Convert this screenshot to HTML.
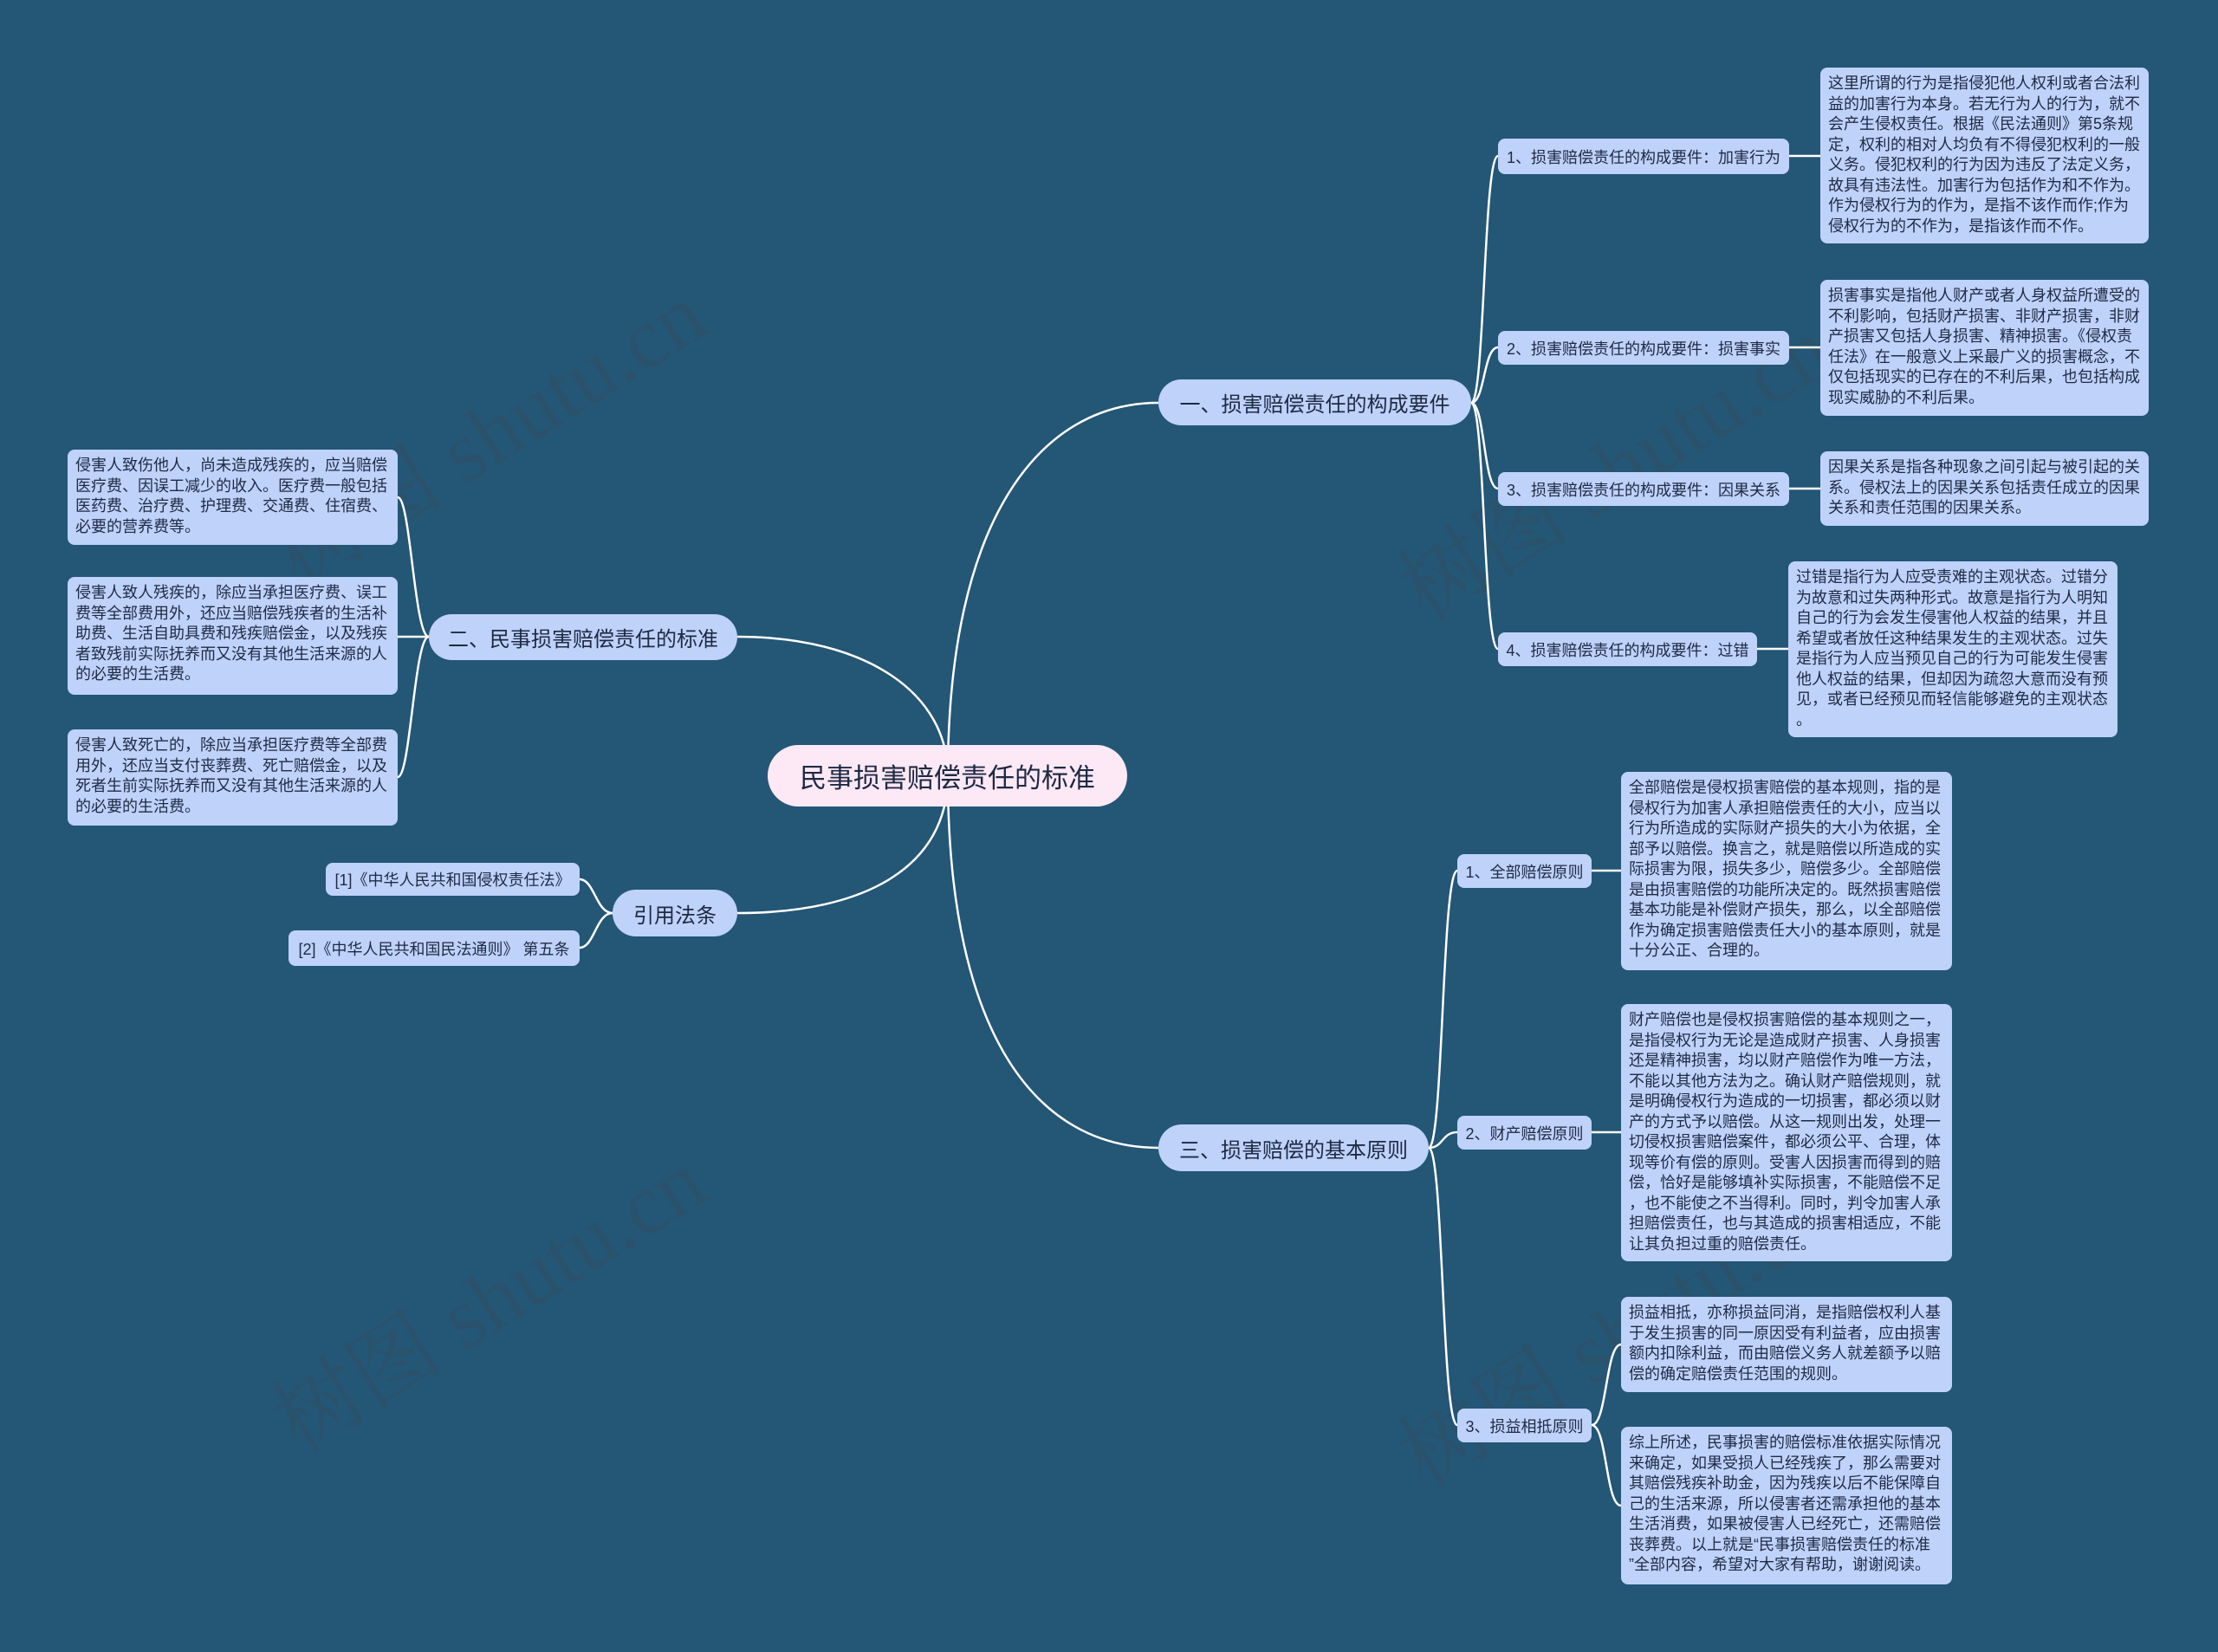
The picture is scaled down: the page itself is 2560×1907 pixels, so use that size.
<!DOCTYPE html>
<html><head><meta charset="utf-8"><style>
body{margin:0;width:2560px;height:1907px;background:#245676;overflow:hidden;position:relative;font-family:"Liberation Sans","Noto Sans CJK SC",sans-serif;}
.n{position:absolute;box-sizing:border-box;background:#bed2fa;color:#1e2a44;border-radius:8px;white-space:nowrap;}
.d{font-size:18px;line-height:23.5px;padding:7px 9px 5px;}
.s{font-size:18px;display:flex;align-items:center;justify-content:center;}
.b{font-size:24px;display:flex;align-items:center;justify-content:center;border-radius:27px;}
svg{position:absolute;left:0;top:0;}
.w{position:absolute;font-family:"Liberation Serif","Noto Serif CJK SC",serif;font-size:100px;color:rgba(60,70,80,0.25);white-space:nowrap;transform:rotate(-32deg);transform-origin:left bottom;}
</style></head><body>
<div class="w" style="left:360px;top:560px;">树图 shutu.cn</div>
<div class="w" style="left:360px;top:1560px;">树图 shutu.cn</div>
<div class="w" style="left:1660px;top:600px;">树图 shutu.cn</div>
<div class="w" style="left:1660px;top:1600px;">树图 shutu.cn</div>
<svg width="2560" height="1907" fill="none" stroke="#fff" stroke-width="2.5">
<path d="M1094,895 C1094,600 1200,465 1337,465"/>
<path d="M1094,895 C1094,1200 1200,1325 1337,1325"/>
<path d="M1094,895 C1094,800 1000,735 851,735"/>
<path d="M1094,895 C1094,1000 1000,1054 851,1054"/>
<path d="M1698,465 C1714,465 1712,180 1729,180"/>
<path d="M1698,465 C1714,465 1712,401 1729,401"/>
<path d="M1698,465 C1714,465 1712,564 1729,564"/>
<path d="M1698,465 C1714,465 1712,749 1729,749"/>
<path d="M2065,180 H2101 M2065,401 H2101 M2065,564 H2101 M2028,749 H2064"/>
<path d="M495,735 C478,735 474,574 459,574"/>
<path d="M495,735 H459"/>
<path d="M495,735 C478,735 474,897 459,897"/>
<path d="M707,1054 C688,1054 686,1015 669,1015"/>
<path d="M707,1054 C688,1054 686,1094 669,1094"/>
<path d="M1649,1325 C1666,1325 1664,1005 1682,1005"/>
<path d="M1649,1325 C1666,1325 1664,1307 1682,1307"/>
<path d="M1649,1325 C1666,1325 1664,1645 1682,1645"/>
<path d="M1837,1005 H1871 M1837,1307 H1871"/>
<path d="M1837,1645 C1855,1645 1853,1552 1871,1552"/>
<path d="M1837,1645 C1855,1645 1853,1738 1871,1738"/>
</svg>
<div class="n b" style="left:886px;top:860px;width:415px;height:71px;background:#fde8f6;font-size:31px;border-radius:36px;">民事损害赔偿责任的标准</div>
<div class="n b" style="left:1337px;top:438px;width:361px;height:53px;">一、损害赔偿责任的构成要件</div>
<div class="n b" style="left:495px;top:709px;width:356px;height:53px;">二、民事损害赔偿责任的标准</div>
<div class="n b" style="left:707px;top:1027px;width:144px;height:54px;">引用法条</div>
<div class="n b" style="left:1337px;top:1298px;width:312px;height:54px;">三、损害赔偿的基本原则</div>
<div class="n s" style="left:1729px;top:160px;width:336px;height:41px;">1、损害赔偿责任的构成要件：加害行为</div>
<div class="n s" style="left:1729px;top:382px;width:336px;height:39px;">2、损害赔偿责任的构成要件：损害事实</div>
<div class="n s" style="left:1729px;top:545px;width:336px;height:39px;">3、损害赔偿责任的构成要件：因果关系</div>
<div class="n s" style="left:1729px;top:730px;width:299px;height:39px;">4、损害赔偿责任的构成要件：过错</div>
<div class="n d" style="left:2101px;top:78px;width:379px;height:203px;">这里所谓的行为是指侵犯他人权利或者合法利<br>益的加害行为本身。若无行为人的行为，就不<br>会产生侵权责任。根据《民法通则》第5条规<br>定，权利的相对人均负有不得侵犯权利的一般<br>义务。侵犯权利的行为因为违反了法定义务，<br>故具有违法性。加害行为包括作为和不作为。<br>作为侵权行为的作为，是指不该作而作;作为<br>侵权行为的不作为，是指该作而不作。</div>
<div class="n d" style="left:2101px;top:323px;width:379px;height:157px;">损害事实是指他人财产或者人身权益所遭受的<br>不利影响，包括财产损害、非财产损害，非财<br>产损害又包括人身损害、精神损害。《侵权责<br>任法》在一般意义上采最广义的损害概念，不<br>仅包括现实的已存在的不利后果，也包括构成<br>现实威胁的不利后果。</div>
<div class="n d" style="left:2101px;top:521px;width:379px;height:86px;">因果关系是指各种现象之间引起与被引起的关<br>系。侵权法上的因果关系包括责任成立的因果<br>关系和责任范围的因果关系。</div>
<div class="n d" style="left:2064px;top:648px;width:380px;height:203px;">过错是指行为人应受责难的主观状态。过错分<br>为故意和过失两种形式。故意是指行为人明知<br>自己的行为会发生侵害他人权益的结果，并且<br>希望或者放任这种结果发生的主观状态。过失<br>是指行为人应当预见自己的行为可能发生侵害<br>他人权益的结果，但却因为疏忽大意而没有预<br>见，或者已经预见而轻信能够避免的主观状态<br>。</div>
<div class="n d" style="left:78px;top:519px;width:381px;height:110px;">侵害人致伤他人，尚未造成残疾的，应当赔偿<br>医疗费、因误工减少的收入。医疗费一般包括<br>医药费、治疗费、护理费、交通费、住宿费、<br>必要的营养费等。</div>
<div class="n d" style="left:78px;top:666px;width:381px;height:136px;">侵害人致人残疾的，除应当承担医疗费、误工<br>费等全部费用外，还应当赔偿残疾者的生活补<br>助费、生活自助具费和残疾赔偿金，以及残疾<br>者致残前实际抚养而又没有其他生活来源的人<br>的必要的生活费。</div>
<div class="n d" style="left:78px;top:842px;width:381px;height:111px;">侵害人致死亡的，除应当承担医疗费等全部费<br>用外，还应当支付丧葬费、死亡赔偿金，以及<br>死者生前实际抚养而又没有其他生活来源的人<br>的必要的生活费。</div>
<div class="n s" style="left:376px;top:996px;width:293px;height:38px;">[1]《中华人民共和国侵权责任法》</div>
<div class="n s" style="left:333px;top:1074px;width:336px;height:41px;">[2]《中华人民共和国民法通则》 第五条</div>
<div class="n s" style="left:1682px;top:986px;width:155px;height:39px;">1、全部赔偿原则</div>
<div class="n s" style="left:1682px;top:1288px;width:155px;height:39px;">2、财产赔偿原则</div>
<div class="n s" style="left:1682px;top:1626px;width:155px;height:39px;">3、损益相抵原则</div>
<div class="n d" style="left:1871px;top:891px;width:382px;height:229px;">全部赔偿是侵权损害赔偿的基本规则，指的是<br>侵权行为加害人承担赔偿责任的大小，应当以<br>行为所造成的实际财产损失的大小为依据，全<br>部予以赔偿。换言之，就是赔偿以所造成的实<br>际损害为限，损失多少，赔偿多少。全部赔偿<br>是由损害赔偿的功能所决定的。既然损害赔偿<br>基本功能是补偿财产损失，那么，以全部赔偿<br>作为确定损害赔偿责任大小的基本原则，就是<br>十分公正、合理的。</div>
<div class="n d" style="left:1871px;top:1159px;width:382px;height:297px;">财产赔偿也是侵权损害赔偿的基本规则之一，<br>是指侵权行为无论是造成财产损害、人身损害<br>还是精神损害，均以财产赔偿作为唯一方法，<br>不能以其他方法为之。确认财产赔偿规则，就<br>是明确侵权行为造成的一切损害，都必须以财<br>产的方式予以赔偿。从这一规则出发，处理一<br>切侵权损害赔偿案件，都必须公平、合理，体<br>现等价有偿的原则。受害人因损害而得到的赔<br>偿，恰好是能够填补实际损害，不能赔偿不足<br>，也不能使之不当得利。同时，判令加害人承<br>担赔偿责任，也与其造成的损害相适应，不能<br>让其负担过重的赔偿责任。</div>
<div class="n d" style="left:1871px;top:1497px;width:382px;height:110px;">损益相抵，亦称损益同消，是指赔偿权利人基<br>于发生损害的同一原因受有利益者，应由损害<br>额内扣除利益，而由赔偿义务人就差额予以赔<br>偿的确定赔偿责任范围的规则。</div>
<div class="n d" style="left:1871px;top:1647px;width:382px;height:182px;">综上所述，民事损害的赔偿标准依据实际情况<br>来确定，如果受损人已经残疾了，那么需要对<br>其赔偿残疾补助金，因为残疾以后不能保障自<br>己的生活来源，所以侵害者还需承担他的基本<br>生活消费，如果被侵害人已经死亡，还需赔偿<br>丧葬费。以上就是“民事损害赔偿责任的标准<br>”全部内容，希望对大家有帮助，谢谢阅读。</div>
</body></html>
